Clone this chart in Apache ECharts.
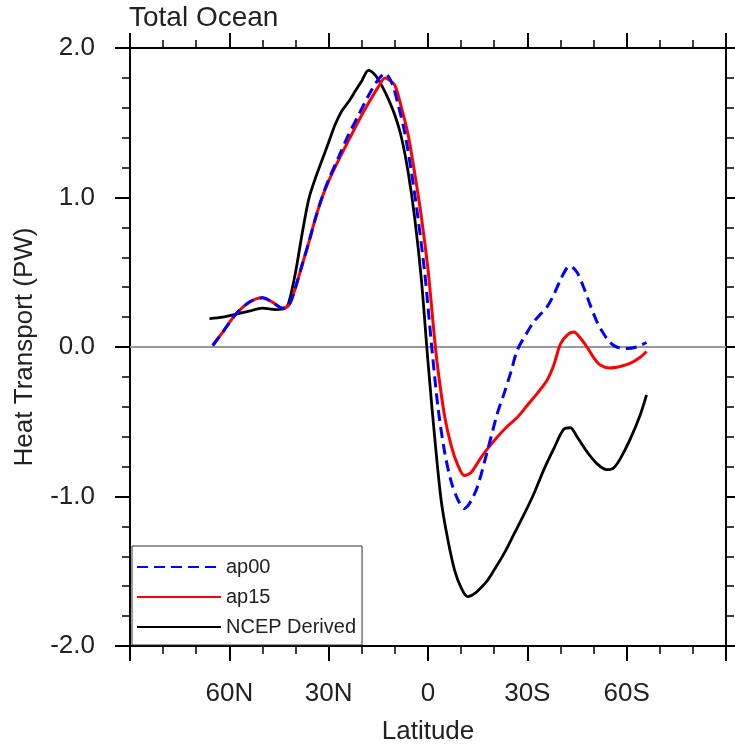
<!DOCTYPE html>
<html><head><meta charset="utf-8">
<script src="https://cdn.jsdelivr.net/npm/echarts@6/dist/echarts.min.js"></script>
<style>html,body{margin:0;padding:0;background:#fff}#c{width:735px;height:744px}</style>
</head><body><div id="c"></div>
<script>
// Tick labels
const xTickValues = [60, 30, 0, -30, -60];
const xTickLabels = ['60N', '30N', '0', '30S', '60S'];
const yTickValues = [-2, -1, 0, 1, 2];
const yTickLabels = ['-2.0', '-1.0', '0.0', '1.0', '2.0'];

// ap00 (latitude, N positive)
const ap00Lat = [65, 62, 58, 54, 50, 47, 44, 42, 40, 38, 36, 34, 32, 30, 27, 24, 21, 18, 15, 13, 11, 9, 7, 5, 3, 1, 0, -1, -3, -5, -7, -9, -11, -13, -15, -18, -21, -23, -25, -27, -30, -32, -34, -36, -38, -40, -42, -43, -45, -47, -49, -51, -53, -55, -57, -60, -63, -66];
const ap00Val = [0.01, 0.10, 0.22, 0.30, 0.33, 0.30, 0.26, 0.28, 0.40, 0.55, 0.70, 0.86, 1.00, 1.12, 1.27, 1.42, 1.55, 1.68, 1.79, 1.83, 1.77, 1.62, 1.43, 1.17, 0.86, 0.50, 0.27, 0.03, -0.40, -0.70, -0.90, -1.02, -1.08, -1.03, -0.93, -0.69, -0.44, -0.31, -0.17, -0.02, 0.10, 0.17, 0.22, 0.27, 0.35, 0.45, 0.53, 0.54, 0.50, 0.40, 0.28, 0.17, 0.09, 0.03, 0.00, -0.01, 0.00, 0.03];

// ap15
const ap15Lat = [65, 62, 58, 54, 50, 47, 44, 42, 40, 38, 36, 34, 32, 30, 27, 24, 21, 18, 15, 13, 12, 10, 8, 6, 4, 2, 0, -1, -2, -3, -5, -7, -9, -11, -13, -16, -18, -21, -24, -27, -30, -33, -36, -38, -40, -42, -44, -46, -48, -50, -52, -55, -58, -61, -64, -66];
const ap15Val = [0.01, 0.10, 0.22, 0.30, 0.33, 0.30, 0.26, 0.28, 0.40, 0.55, 0.70, 0.86, 1.00, 1.11, 1.25, 1.38, 1.51, 1.63, 1.74, 1.80, 1.79, 1.75, 1.60, 1.42, 1.16, 0.87, 0.52, 0.29, 0.05, -0.15, -0.46, -0.66, -0.79, -0.86, -0.84, -0.74, -0.68, -0.60, -0.53, -0.47, -0.39, -0.31, -0.22, -0.12, 0.02, 0.08, 0.10, 0.06, 0.00, -0.07, -0.12, -0.14, -0.13, -0.11, -0.07, -0.03];

// NCEP Derived
const ncepLat = [66, 62, 58, 54, 50, 46, 43, 42, 40, 38, 36, 34, 32, 30, 28, 26, 24, 22, 20, 18, 16, 14, 12, 10, 8, 6, 4, 2, 0, -2, -4, -6, -8, -10, -12, -14, -16, -18, -20, -23, -26, -29, -32, -35, -38, -41, -43, -45, -48, -51, -54, -56, -58, -61, -64, -66];
const ncepVal = [0.19, 0.20, 0.22, 0.24, 0.26, 0.25, 0.26, 0.30, 0.50, 0.76, 0.99, 1.13, 1.25, 1.37, 1.49, 1.58, 1.64, 1.71, 1.78, 1.85, 1.82, 1.75, 1.66, 1.55, 1.40, 1.17, 0.86, 0.45, -0.10, -0.60, -1.03, -1.29, -1.49, -1.61, -1.67, -1.65, -1.61, -1.56, -1.49, -1.38, -1.25, -1.12, -0.98, -0.82, -0.68, -0.55, -0.54, -0.60, -0.70, -0.78, -0.82, -0.81, -0.75, -0.62, -0.46, -0.32];

const FONT = 'Liberation Sans, Arial, Helvetica, sans-serif';
const TXT = '#222';
const pair = (lat, val) => lat.map((l, i) => [l, val[i]]);

function common(splitNumber) {
  return {
    axisLine: { onZero: false, lineStyle: { color: '#000', width: 2 } },
    axisTick: { show: true, inside: false, length: 15, lineStyle: { color: '#000', width: 2 } },
    minorTick: { show: true, splitNumber: splitNumber, length: 8, lineStyle: { color: '#000', width: 1.5 } },
    splitLine: { show: false },
    minorSplitLine: { show: false }
  };
}

function xAxisDef(pos, withLabels) {
  return Object.assign({
    type: 'value', min: -90, max: 90, interval: 30, inverse: true, position: pos,
    axisLabel: {
      show: withLabels, margin: 35, fontSize: 26, color: TXT, fontFamily: FONT,
      formatter: v => { const i = xTickValues.indexOf(v); return i >= 0 ? xTickLabels[i] : ''; }
    }
  }, common(3), withLabels ? {
    name: 'Latitude', nameLocation: 'middle', nameGap: 73,
    nameTextStyle: { fontSize: 26, color: TXT, fontFamily: FONT }
  } : {});
}
function yAxisDef(pos, withLabels) {
  return Object.assign({
    type: 'value', min: -2, max: 2, interval: 1, position: pos,
    axisLabel: {
      show: withLabels, margin: 35, fontSize: 26, color: TXT, fontFamily: FONT,
      formatter: v => { const i = yTickValues.indexOf(v); return i >= 0 ? yTickLabels[i] : ''; }
    }
  }, common(5), withLabels ? {
    name: 'Heat Transport (PW)', nameLocation: 'middle', nameGap: 92,
    nameTextStyle: { fontSize: 26, color: TXT, fontFamily: FONT }
  } : {});
}

const chart = echarts.init(document.getElementById('c'), null, { renderer: 'canvas' });
chart.setOption({
  animation: false,
  backgroundColor: '#fff',
  textStyle: { fontFamily: FONT },
  title: {
    text: 'Total Ocean', left: 129, top: 4, padding: 0,
    textStyle: { fontSize: 28, fontWeight: 'normal', color: TXT, fontFamily: FONT }
  },
  grid: { left: 130, top: 48, right: 9, bottom: 98, containLabel: false, outerBoundsMode: 'none' },
  xAxis: [xAxisDef('bottom', true), xAxisDef('top', false)],
  yAxis: [yAxisDef('left', true), yAxisDef('right', false)],
  legend: {
    data: ['ap00', 'ap15', 'NCEP Derived'],
    orient: 'vertical', left: 132, top: 546,
    itemWidth: 84, itemHeight: 20, itemGap: 10,
    padding: [11, 6, 8, 4],
    borderColor: '#333', borderWidth: 1, backgroundColor: '#fff',
    selectedMode: false,
    itemStyle: { opacity: 0 },
    textStyle: { fontSize: 20, color: TXT, lineHeight: 20, fontFamily: FONT }
  },
  series: [
    {
      name: 'NCEP Derived', type: 'line', data: pair(ncepLat, ncepVal),
      smooth: 0.3, symbol: 'none', z: 3,
      lineStyle: { color: '#000', width: 2.8 }, itemStyle: { color: '#000' },
      markLine: {
        silent: true, symbol: ['none', 'none'], label: { show: false },
        lineStyle: { color: '#999', width: 2, type: 'solid' },
        data: [{ yAxis: 0 }], z: 1
      }
    },
    {
      name: 'ap15', type: 'line', data: pair(ap15Lat, ap15Val),
      smooth: 0.3, symbol: 'none', z: 4,
      lineStyle: { color: '#ff0000', width: 3 }, itemStyle: { color: '#ff0000' }
    },
    {
      name: 'ap00', type: 'line', data: pair(ap00Lat, ap00Val),
      smooth: 0.3, symbol: 'none', z: 5,
      lineStyle: { color: '#0000ff', width: 3, type: [11, 6] }, itemStyle: { color: '#0000ff' }
    }
  ]
});
</script></body></html>
